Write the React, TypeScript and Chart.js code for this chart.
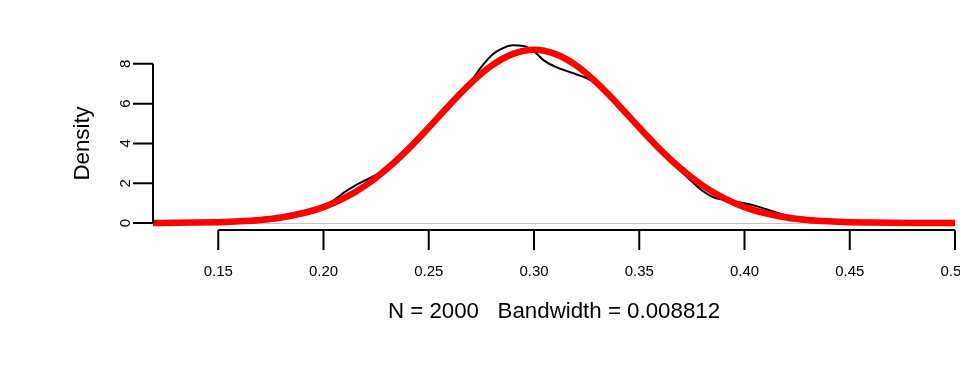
import React, { useEffect, useRef } from "react";
import { Chart, registerables } from "chart.js";

Chart.register(...registerables);

// Kernel density estimate (black)
const blackX = [
  0.119, 0.12, 0.125, 0.13, 0.135, 0.14, 0.145, 0.15, 0.155, 0.16, 0.165, 0.17, 0.175, 0.18, 0.185, 0.19, 0.195,
  0.2, 0.205, 0.21, 0.215, 0.22, 0.225, 0.23, 0.235, 0.24, 0.245, 0.25, 0.255, 0.26, 0.265, 0.27, 0.275,
  0.28, 0.285, 0.29, 0.295, 0.3, 0.305, 0.31, 0.315, 0.32, 0.325, 0.33, 0.335, 0.34, 0.345, 0.35, 0.355,
  0.36, 0.365, 0.37, 0.375, 0.38, 0.385, 0.39, 0.395, 0.4, 0.405, 0.41, 0.415, 0.42, 0.425, 0.43, 0.435,
  0.44, 0.445, 0.45, 0.455, 0.46, 0.465, 0.47, 0.475, 0.48, 0.485, 0.49, 0.495, 0.5,
];
const blackY = [
  0.004, 0.004, 0.006, 0.009, 0.014, 0.02, 0.029, 0.041, 0.058, 0.082, 0.115, 0.155, 0.21, 0.28, 0.38, 0.49, 0.64,
  0.86, 1.15, 1.55, 1.88, 2.15, 2.42, 2.75, 3.18, 3.68, 4.2, 4.72, 5.28, 5.88, 6.5, 7.12, 7.85,
  8.45, 8.78, 8.93, 8.9, 8.62, 8.15, 7.86, 7.66, 7.48, 7.28, 6.95, 6.45, 5.88, 5.28, 4.7, 4.15,
  3.6, 3.08, 2.58, 2.08, 1.62, 1.3, 1.17, 1.08, 0.99, 0.87, 0.7, 0.53, 0.38, 0.27, 0.19, 0.13,
  0.09, 0.06, 0.04, 0.028, 0.02, 0.013, 0.009, 0.006, 0.004, 0.003, 0.002, 0.001, 0.001,
];

// Fitted normal curve (red)
const redX = [
  0.119, 0.13, 0.14, 0.15, 0.16, 0.17, 0.18, 0.19, 0.2, 0.21, 0.22, 0.23, 0.24, 0.25, 0.26, 0.27, 0.28, 0.29,
  0.3, 0.31, 0.32, 0.33, 0.34, 0.35, 0.36, 0.37, 0.38, 0.39, 0.4, 0.41, 0.42, 0.43, 0.44, 0.45, 0.46, 0.47,
  0.48, 0.49, 0.5,
];
const redY = [
  0.004, 0.009, 0.02, 0.041, 0.082, 0.155, 0.28, 0.49, 0.8, 1.26, 1.89, 2.71, 3.69, 4.8, 5.95, 7.03, 7.92, 8.5,
  8.71, 8.5, 7.92, 7.03, 5.95, 4.8, 3.69, 2.71, 1.89, 1.26, 0.8, 0.49, 0.28, 0.155, 0.082, 0.041, 0.02, 0.009,
  0.004, 0.002, 0.001,
];

const xTicks = [0.15, 0.2, 0.25, 0.3, 0.35, 0.4, 0.45, 0.5];
const xTickLabels = ["0.15", "0.20", "0.25", "0.30", "0.35", "0.40", "0.45", "0.50"];
const yTicks = [0, 2, 4, 6, 8];
const yTickLabels = ["0", "2", "4", "6", "8"];

const xLabel = "N = 2000   Bandwidth = 0.008812";
const yLabel = "Density";

const FONT = "'Liberation Sans', Arial, Helvetica, sans-serif";

const rAxesPlugin = {
  id: "rAxes",
  beforeDatasetsDraw(chart: any) {
    const { ctx, chartArea, scales } = chart;
    const y0 = scales.y.getPixelForValue(0);
    ctx.save();
    ctx.strokeStyle = "#c8c8c8";
    ctx.lineWidth = 1;
    ctx.beginPath();
    ctx.moveTo(chartArea.left, Math.round(y0) + 0.5);
    ctx.lineTo(chartArea.right, Math.round(y0) + 0.5);
    ctx.stroke();
    ctx.restore();
  },
  afterDraw(chart: any) {
    const { ctx, chartArea, scales } = chart;
    const xs = scales.x;
    const ys = scales.y;
    ctx.save();
    ctx.strokeStyle = "#000";
    ctx.fillStyle = "#000";
    ctx.lineWidth = 2;
    // x axis
    const axY = chartArea.bottom;
    ctx.beginPath();
    ctx.moveTo(xs.getPixelForValue(xTicks[0]), axY);
    ctx.lineTo(xs.getPixelForValue(xTicks[xTicks.length - 1]), axY);
    xTicks.forEach((t) => {
      const px = xs.getPixelForValue(t);
      ctx.moveTo(px, axY);
      ctx.lineTo(px, axY + 20);
    });
    ctx.stroke();
    ctx.font = `15px ${FONT}`;
    ctx.textAlign = "center";
    ctx.textBaseline = "middle";
    xTicks.forEach((t, i) => {
      ctx.fillText(xTickLabels[i], xs.getPixelForValue(t), axY + 42);
    });
    // y axis
    const axX = chartArea.left;
    ctx.beginPath();
    ctx.moveTo(axX, ys.getPixelForValue(yTicks[0]));
    ctx.lineTo(axX, ys.getPixelForValue(yTicks[yTicks.length - 1]));
    yTicks.forEach((t) => {
      const py = ys.getPixelForValue(t);
      ctx.moveTo(axX, py);
      ctx.lineTo(axX - 20, py);
    });
    ctx.stroke();
    yTicks.forEach((t, i) => {
      ctx.save();
      ctx.translate(axX - 27, ys.getPixelForValue(t));
      ctx.rotate(-Math.PI / 2);
      ctx.fillText(yTickLabels[i], 0, 0);
      ctx.restore();
    });
    // axis titles
    ctx.font = `22.3px ${FONT}`;
    ctx.fillText(xLabel, (chartArea.left + chartArea.right) / 2, axY + 82);
    ctx.save();
    ctx.translate(axX - 70, (ys.getPixelForValue(0) + ys.getPixelForValue(8)) / 2);
    ctx.rotate(-Math.PI / 2);
    ctx.fillText(yLabel, 0, 0);
    ctx.restore();
    ctx.restore();
  },
};

export default function App() {
  const ref = useRef<HTMLCanvasElement | null>(null);
  useEffect(() => {
    document.body.style.margin = "0";
    document.body.style.overflow = "hidden";
    const canvas = ref.current;
    if (!canvas) return;
    const chart = new Chart(canvas, {
      type: "line",
      data: {
        datasets: [
          {
            label: "density",
            data: blackX.map((x, i) => ({ x, y: blackY[i] })),
            borderColor: "#000000",
            borderWidth: 2,
            pointRadius: 0,
            cubicInterpolationMode: "monotone",
            fill: false,
            order: 2,
          },
          {
            label: "normal",
            data: redX.map((x, i) => ({ x, y: redY[i] })),
            borderColor: "#ff0000",
            borderWidth: 6.5,
            pointRadius: 0,
            cubicInterpolationMode: "monotone",
            fill: false,
            order: 1,
          },
        ],
      },
      options: {
        responsive: false,
        animation: false,
        devicePixelRatio: 1,
        layout: { padding: { left: 153, right: 45, top: 38, bottom: 154 } },
        plugins: { legend: { display: false }, tooltip: { enabled: false } },
        scales: {
          x: { type: "linear", min: 0.119, max: 0.5, display: false },
          y: { type: "linear", min: -0.352, max: 9.3, display: false },
        },
      },
      plugins: [rAxesPlugin],
    });
    return () => chart.destroy();
  }, []);
  return (
    <div style={{ position: "absolute", left: 0, top: 0, width: 1000, height: 384, background: "#fff" }}>
      <canvas ref={ref} width={1000} height={384} />
    </div>
  );
}
